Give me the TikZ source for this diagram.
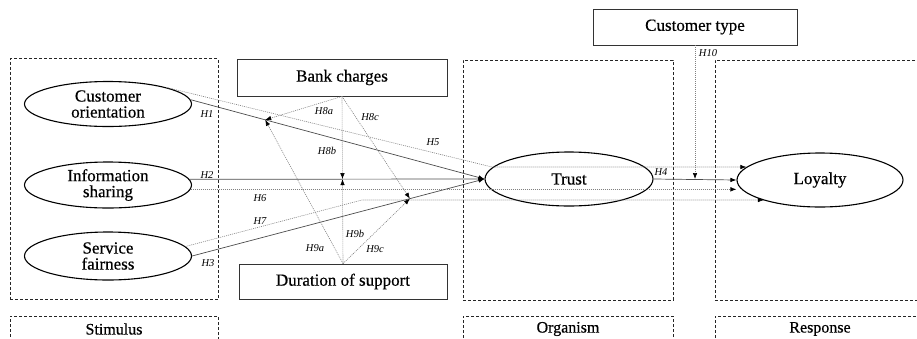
\documentclass[tikz,border=0pt]{standalone}
\usepackage{fontspec}
\setmainfont{Liberation Serif}
\newfontfamily\boxfont{Liberation Serif}[FakeBold=0.5]
\usepackage{tikz}
\usetikzlibrary{calc, shapes, arrows.meta}
\tikzset{
    construct/.style = {ellipse, draw, line width=1.1pt, minimum width=167pt, minimum height=46pt, inner sep=0pt, align=center, font=\boxfont\fontsize{17}{16}\selectfont}, % latent variables
    factor/.style = {rectangle, draw=black!80, line width=0.8pt, minimum width=210pt, minimum height=37pt, inner sep=0pt, font=\boxfont\fontsize{17}{17}\selectfont}, % moderators
    stage/.style = {rectangle, draw=black!85, line width=0.8pt, dash pattern=on 3pt off 2pt, inner sep=0pt, font=\boxfont\fontsize{16}{16}\selectfont},
    direct/.style = {-{Latex[length=6pt,width=4.5pt,color=black]}, draw=black!70, line width=0.7pt},
    indirect/.style = {-{Latex[length=6pt,width=4.5pt,color=black]}, draw=black!50, line width=0.6pt, dash pattern=on 1pt off 1pt},
    hyp/.style = {font=\fontsize{10.5}{12}\selectfont\itshape, inner sep=0pt}
}

\begin{document}
\begin{tikzpicture}[x=1pt, y=-1pt]
    \clip (0,0) rectangle (917,338);
    % S-O-R stages
    \node [stage, minimum width=208pt, minimum height=241pt] (stimbox) at (114,179) {};
    \node [stage, minimum width=210pt, minimum height=240pt] (orgbox) at (568,180) {};
    \node [stage, minimum width=210pt, minimum height=240pt] (resbox) at (820,180) {};
    \node [stage, minimum width=208pt, minimum height=26pt] (stim) at (114,329) {Stimulus};
    \node [stage, minimum width=210pt, minimum height=26pt] (org) at (568,329) {Organism};
    \node [stage, minimum width=210pt, minimum height=26pt] (res) at (820,329) {Response};

    % constructs
    \node [construct, minimum height=45pt] (co) at (108,104) {Customer\\orientation};
    \node [construct] (is) at (108,185) {Information\\sharing};
    \node [construct, minimum height=48pt] (sf) at (108,256) {Service\\fairness};
    \node [construct, minimum width=168pt, minimum height=54pt] (trust) at (569,179) {Trust};
    \node [construct, minimum width=166pt, minimum height=54pt] (loy) at (820,180) {Loyalty};

    % moderators
    \node [factor] (bank) at (342,77.5) {Bank charges};
    \node [factor, minimum width=208pt, minimum height=35pt] (dur) at (343,281.5) {Duration of support};
    \node [factor, minimum width=204pt, minimum height=36pt] (ctype) at (695,27) {Customer type};

    % points where moderators hit the paths
    \coordinate (m1) at ($(co.3)!0.254!(trust.west)$);
    \coordinate (m2) at (intersection of bank.south--dur.north and is.4--trust.west);
    \coordinate (m3) at ($(sf.east)!0.745!(trust.west)$);
    \coordinate (h5bend) at (492,167);
    \coordinate (h7bend) at (362,200);

    % direct effects
    \draw [direct] (co.3) -- (trust.west);
    \draw [direct] (is.4) -- (trust.west);
    \draw [direct] (sf.east) -- (trust.west);
    \draw [direct] (trust.east) -- (loy.west);

    % direct effects on loyalty
    \draw [indirect] (co.16) -- (h5bend) -- (h5bend -| loy.170);
    \draw [indirect] (is.-3) -- (is.-3 -| loy.west);
    \draw [indirect] (sf.7) -- (h7bend) -- (h7bend -| loy.200);

    % moderation
    \draw [indirect] (bank.south) -- (m1);
    \draw [indirect] (bank.south) -- (m2);
    \draw [indirect] (bank.south) -- (m3);
    \draw [indirect] (dur.north) -- (m1);
    \draw [indirect] (dur.north) -- (m2);
    \draw [indirect] (dur.north) -- (m3);
    \draw [indirect] (ctype.south) -- (ctype.south |- trust.east);

    % hypotheses
    \node [hyp] (h1) at (207,114) {H1};
    \node [hyp] (h2) at (207,175) {H2};
    \node [hyp] (h3) at (208,263) {H3};
    \node [hyp] (h4) at (661,172) {H4};
    \node [hyp] (h5) at (433,142) {H5};
    \node [hyp] (h6) at (260,198) {H6};
    \node [hyp] (h7) at (260,221) {H7};
    \node [hyp] (h8a) at (324,111) {H8a};
    \node [hyp] (h8b) at (327,151) {H8b};
    \node [hyp] (h8c) at (370,117) {H8c};
    \node [hyp] (h9a) at (315,248) {H9a};
    \node [hyp] (h9b) at (355,234) {H9b};
    \node [hyp] (h9c) at (375,249) {H9c};
    \node [hyp] (h10) at (708,53) {H10};
\end{tikzpicture}
\end{document}
